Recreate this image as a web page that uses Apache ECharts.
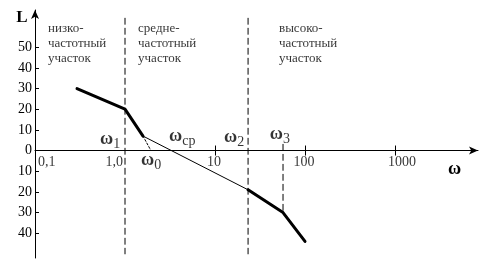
<!DOCTYPE html>
<html>
<head>
<meta charset="utf-8">
<script src="https://cdn.jsdelivr.net/npm/echarts@6/dist/echarts.min.js"></script>
<style>html,body{margin:0;padding:0;background:#fff}#c{width:491px;height:271px}</style>
</head>
<body>
<div id="c"></div>
<script>
// ---- data ----
const xLabelValues = [0.1, 1, 10, 100, 1000];
const xLabelTexts = ['0,1', '1,0', '10', '100', '1000'];
const xTickValues = [10, 100, 1000];
const yTickValues = [-40, -30, -20, -10, 10, 20, 30, 40, 50];
const yLabelValues = [-40, -30, -20, -10, 0, 10, 20, 30, 40, 50];
const lowSegment = [[0.293, 30], [1, 20], [1.585, 7]];
const midSegment = [[1.585, 7], [23.3, -19]];
const highSegment = [[23.3, -19], [57, -30], [100, -44]];
const omega0Guide = [[1.585, 7], [1.94, 0]];
const boundary1 = [[1, 64], [1, -50]];
const boundary2 = [[23.3, 64], [23.3, -50]];
const boundary3 = [[57, 3], [57, -30]];
const zoneTexts = ['низко-\nчастотный\nучасток', 'средне-\nчастотный\nучасток', 'высоко-\nчастотный\nучасток'];
const zoneAt = [[0.1395, 62.6], [1.397, 62.6], [51.4, 62.6]];
const omegaSubs = ['1', '0', 'ср', '2', '3'];
const omegaAt = [[0.528, 5.2], [1.507, -4.9], [3.09, 6.8], [12.6, 6.3], [40.6, 7.8]];

const SERIF = '"Liberation Serif","DejaVu Serif",serif';
const X_MIN = 0.1, X_MAX = 8360, Y_MIN = -52, Y_MAX = 68;

function line(data, width, dashed) {
  return {
    type: 'line', data: data, symbol: 'none', silent: true, animation: false,
    lineStyle: { color: '#000', width: width, type: dashed ? dashed : 'solid', cap: 'round', join: 'round' }
  };
}

// per-label placement relative to its tick (style only)
const xLabelPlace = [
  { align: 'left', offset: [3, 5] },
  { align: 'right', offset: [-2, 5] },
  { align: 'center', offset: [-1, 5] },
  { align: 'center', offset: [-1, 5] },
  { align: 'center', offset: [7, 5] }
];

const series = [
  line(lowSegment, 3),
  line(midSegment, 1),
  line(highSegment, 3),
  line(omega0Guide, 1, [2, 2]),
  line(boundary1, 1, [6, 4]),
  line(boundary2, 1, [6, 4]),
  line(boundary3, 1, [6, 4]),
  {
    type: 'scatter', symbolSize: 0, silent: true, animation: false, clip: false,
    data: xLabelValues.map((v, i) => ({
      value: [v, 0],
      label: { formatter: xLabelTexts[i], align: xLabelPlace[i].align, offset: xLabelPlace[i].offset }
    })),
    label: {
      show: true, position: 'inside', verticalAlign: 'top',
      fontFamily: SERIF, fontSize: 14, color: '#000'
    }
  },
  {
    type: 'scatter', symbolSize: 0, silent: true, animation: false,
    data: zoneAt.map((p, i) => ({ value: p, label: { formatter: zoneTexts[i] } })),
    label: {
      show: true, position: 'inside', align: 'left', verticalAlign: 'top',
      fontFamily: SERIF, fontSize: 13, lineHeight: 15, color: '#000'
    }
  },
  {
    type: 'scatter', symbolSize: 0, silent: true, animation: false,
    data: omegaAt.map((p, i) => ({ value: p, label: { formatter: '{w|ω}{s|' + omegaSubs[i] + '}' } })),
    label: {
      show: true, position: 'inside', align: 'left', verticalAlign: 'middle', color: '#000',
      rich: {
        w: { fontFamily: SERIF, fontSize: 18, fontWeight: 'bold', color: '#000', verticalAlign: 'bottom', lineHeight: 18 },
        s: { fontFamily: SERIF, fontSize: 14, color: '#000', verticalAlign: 'bottom', lineHeight: 14, padding: [0, 0, -3, 0] }
      }
    }
  }
];

const chart = echarts.init(document.getElementById('c'), null, { renderer: 'canvas' });
chart.setOption({
  animation: false,
  backgroundColor: '#fff',
  grid: { left: 35, right: 13, top: 10, bottom: 13, containLabel: false, outerBoundsMode: 'none' },
  xAxis: [{
    type: 'log', logBase: 10, min: X_MIN, max: X_MAX,
    name: 'ω', nameLocation: 'end', nameGap: -30,
    nameTextStyle: { fontFamily: SERIF, fontSize: 18, fontWeight: 'bold', color: '#000', verticalAlign: 'top', padding: [10, 0, 0, 0] },
    axisLine: { onZero: true, onZeroAxisIndex: 0, lineStyle: { color: '#000', width: 1 }, symbol: ['none', 'arrow'], symbolSize: [6, 9] },
    axisTick: { show: true, inside: true, length: 5, lineStyle: { color: '#000' }, customValues: xTickValues },
    axisLabel: { show: false },
    splitLine: { show: false }
  }, {
    type: 'log', logBase: 10, min: X_MIN, max: X_MAX, position: 'bottom',
    axisLine: { show: false, onZero: true, onZeroAxisIndex: 1 },
    axisTick: { show: true, inside: false, length: 5, lineStyle: { color: '#000' }, customValues: xTickValues },
    axisLabel: { show: false },
    splitLine: { show: false }
  }],
  yAxis: [{
    type: 'value', min: Y_MIN, max: Y_MAX,
    name: 'L', nameLocation: 'end', nameGap: -8,
    nameTextStyle: { fontFamily: SERIF, fontSize: 17, fontWeight: 'bold', color: '#000', padding: [0, 26, 0, 0], verticalAlign: 'middle' },
    axisLine: { show: true, onZero: false, lineStyle: { color: '#000', width: 1 }, symbol: ['none', 'arrow'], symbolSize: [6, 9] },
    axisTick: { show: true, inside: true, length: 4, lineStyle: { color: '#000' }, customValues: yTickValues },
    axisLabel: {
      show: true, margin: 3, color: '#000', fontFamily: SERIF, fontSize: 14,
      customValues: yLabelValues,
      formatter: v => String(Math.abs(v))
    },
    splitLine: { show: false }
  }, {
    type: 'value', min: Y_MIN, max: Y_MAX, show: false
  }],
  series: series
});
</script>
</body>
</html>
